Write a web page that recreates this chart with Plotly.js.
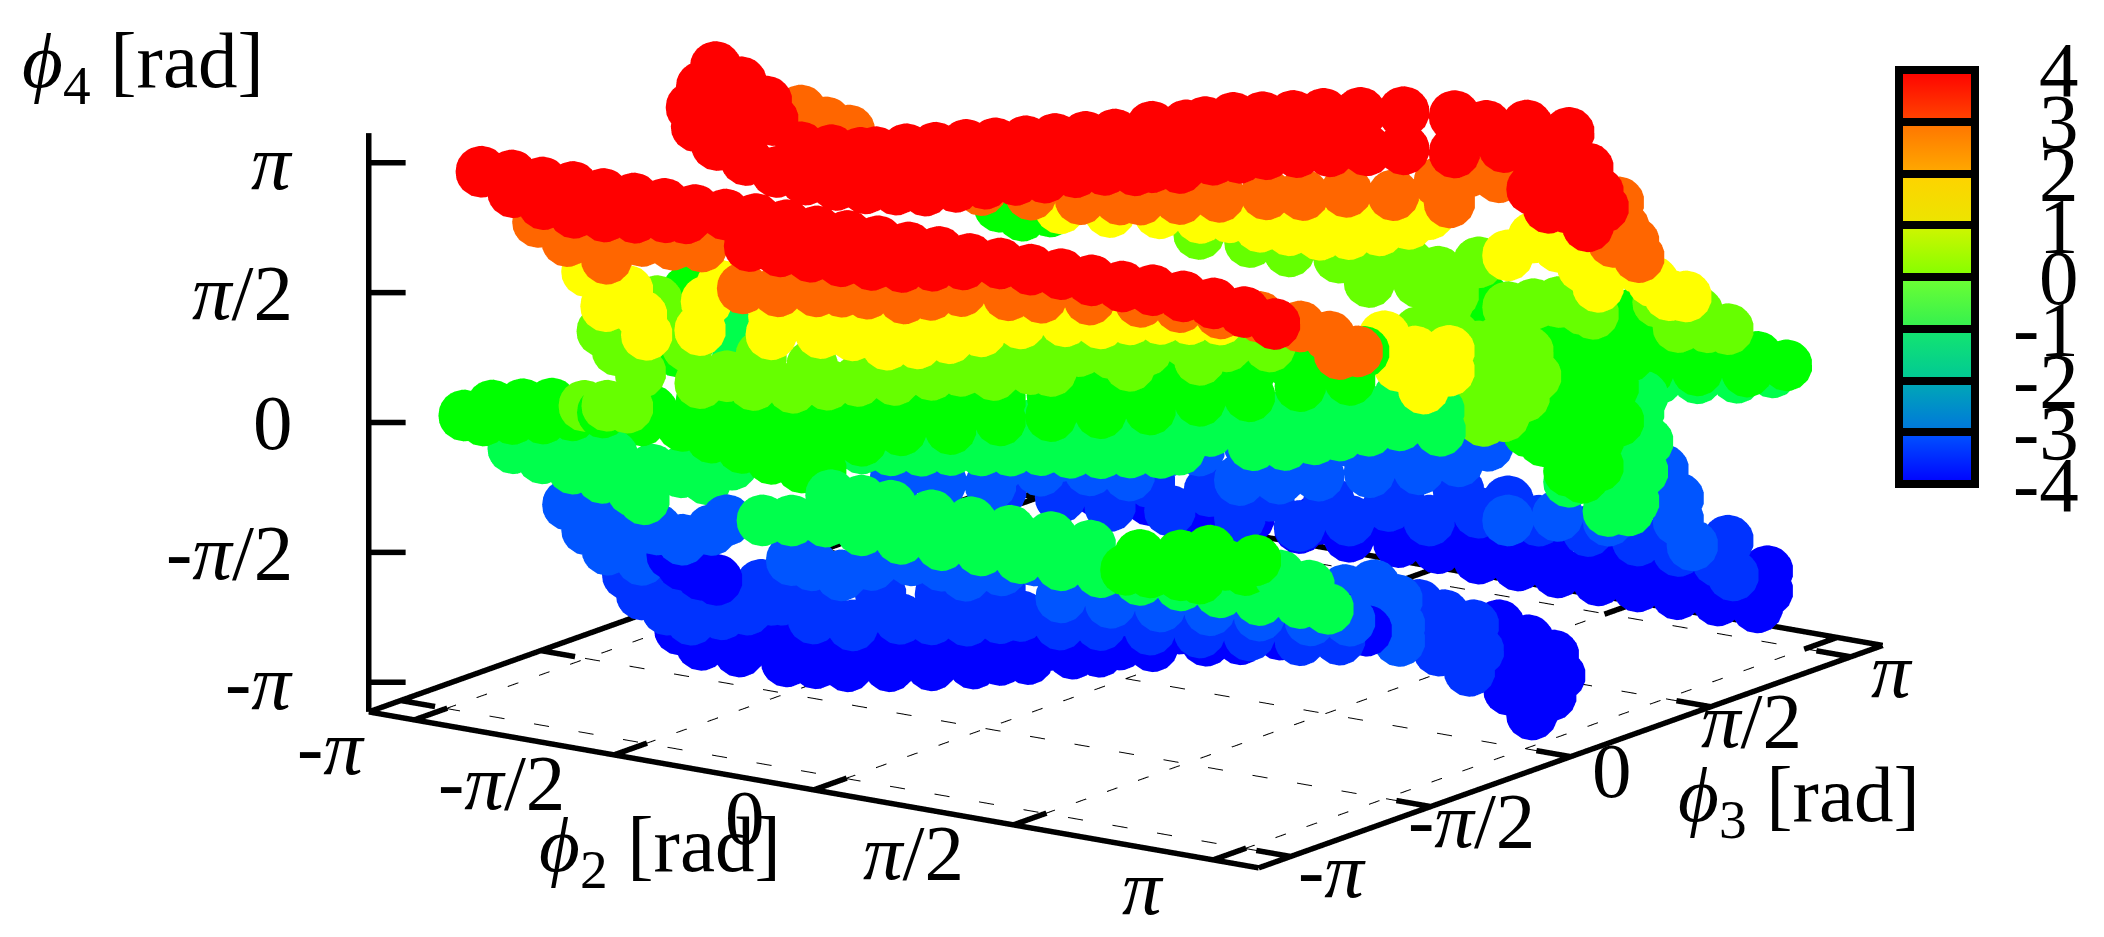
<!DOCTYPE html>
<html><head><meta charset="utf-8"><script src="https://cdn.plot.ly/plotly-3.0.1.min.js"></script>
<style>html,body{margin:0;background:#fff}#chart{width:2104px;height:937px}</style></head>
<body><div id="chart"></div><script>
// axis ticks and colour bar
var pi = Math.PI;
var lim = 3.5;
var tickVals = [-pi, -pi/2, 0, pi/2, pi];
var tickText = ['-<i>π</i>', '-<i>π</i>/2', '0', '<i>π</i>/2', '<i>π</i>'];
var cbarTicks = [-3, -2, -1, 0, 1, 2, 3];
var cbarLabels = [-4, -3, -2, -1, 0, 1, 2, 3, 4];

// points, one pair of arrays per strand, phi3 is in the table below
var redA2 = [-3.11,-2.87,-2.63,-2.39,-2.15,-1.91,-1.67,-1.43,-1.19,-.95,-.71,-.47,-.23,.01,.25,.49,.73,.97,1.21,1.45,1.69,1.93,2.17,2.41,2.65,2.89,3.13];
var redA4 = [2.88,2.9,2.88,2.89,2.87,2.88,2.88,2.87,2.88,2.89,2.88,2.87,2.88,2.88,2.87,2.88,2.86,2.87,2.86,2.87,2.86,2.85,2.87,2.86,2.84,2.8,2.72];
var redB2 = [-1,-.76,-.52,-.28,-.04,.2,.44,.68];
var redB4 = [2.55,2.55,2.55,2.56,2.58,2.62,2.7,2.78];
var redC2 = [-2.86,-2.62,-2.38,-2.14,-1.9,-1.66,-1.5];
var redC4 = [2.7,2.62,2.58,2.6,2.65,2.72,2.75];
var orangeL2 = [-2.84,-2.61,-2.3,-2.33,-2.02,-1.86,-1.78,-1.55];
var orangeL4 = [2.25,2.08,1.95,2.21,2.24,2.37,2.26,2.3];
var orangeM2 = [-1.23,-.95,-.65,-.45,-.25,.04,.25,.49,.86,1.12,1.5,1.9,2.21,2.53];
var orangeM4 = [1.88,1.92,2,2.05,2.08,2.1,2.2,2.31,2.36,2.4,2.48,2.56,2.58,2.59];
var orangeR2 = [2.59,2.91,3.14,3.36,3.22];
var orangeR4 = [2.43,2.4,2.34,2.22,2.15];
var yellowL2 = [-2.84,-2.69,-2.52,-2.41,-2.37,-1.95,-1.9,-1.78,-1.39,-1.37,-1.27,-1,-.75,-.48,-.24,.01,.26,.57,.92,1.2,1.43,1.67,1.9,2.14,-1.15,-.84,-.52,-.21,.1,.42];
var yellowL4 = [1.44,1.06,1.29,1.02,.8,.97,1.33,1.55,1.07,1.29,1.5,1.19,1.23,1.19,1.27,1.4,1.55,1.73,1.85,1.9,2.01,2.08,2.14,2.2,1.35,1.47,1.56,1.64,1.75,1.86];
var yellowR2 = [2.8,3.04,3.31,3.31,3.11,2.92];
var yellowR4 = [1.83,1.71,1.79,1.55,1.28,1.5];
var limeL2 = [-3,-2.88,-2.7,-2.57,-2.44,-2.33,-2.23,-2.02,-1.81,-1.5,-1.23,-.99,-.7,-.41,-.18,.08,.37,.75,1.01,1.28,1.59,1.91,2.12,-1.75,-1.35,-.88,-.5,.13,.6,1.23,1.78,.53,1.15,1.7,2.25];
var limeL4 = [.52,.32,.1,1,.79,.52,.1,.24,.19,.24,.35,.46,.55,.69,.8,.82,.97,1.29,1.33,1.44,1.63,1.66,1.88,.56,.55,.67,.8,1.02,1.25,1.54,1.75,.99,1.22,1.44,1.75];
var limeTip2 = [2.44,2.72,3.07,3.3,3.36,3.27,3.11,2.95,2.84,2.91,3.15,2.99,2.84,2.68,3.19];
var limeTip4 = [1.44,1.46,1.49,1.43,1.15,.88,.6,.5,.83,1.39,1.21,.87,1.19,.85,.86];
var limeBlob2 = [-2.37,-2.19,-2.03];
var limeBlob4 = [.21,.26,.28];
var greenM2 = [-3.14,-2.83,-2.75,-2.51,-2.28,-2.04,-1.81,-1.57,-1.42,-2.36,-2.04,-1.73,-1.42,-1.06,-.79,-.56,-.32,-.01,.4,.7,1.01,1.33,1.64,1.95,2.27,2.58,2.85,-2.47,-2.51,-2.55,-.79,-.4,-.01,.39,.78,1.17,1.56,1.95,2.35,2.74,-2.2,-1.81,-1.42,-1.1];
var greenM4 = [-.55,-.59,-.45,-.57,-.65,-.71,-.78,-.82,-.81,-.22,-.26,-.24,-.15,-.06,.05,.14,.26,.41,.58,.66,.8,.98,1.11,1.27,1.48,1.68,1.77,1.07,.7,.32,-.16,-.04,.17,.33,.47,.62,.83,.99,1.22,1.4,-.42,-.5,-.45,-.37];
var greenL2 = [-3.35,-3.13,-2.89,-2.66,-3.2,-2.97,-2.73,-2.5,-2.26];
var greenL4 = [-.19,-.01,.07,.14,-.21,-.13,-.06,.04,.14];
var greenTip2 = [3.39,3.27,3.15,3.07,3.03,3.15,2.92,2.84,3.31,3.07,2.84,2.95,2.72,2.6,3.31,3.15,2.92];
var greenTip4 = [1.01,.61,.22,-.16,-.55,-.38,.1,.56,.93,.74,.32,-.13,-.19,-.11,.21,-.08,-.5];
var springM2 = [-3.1,-2.87,-2.67,-2.47,-1.45,-1.22,-.98,-.75,-.51,-.28,-.04,.19,.43,.66,.9,1.05,1.63,1.88,2.11,2.31,2.54,2.78,3.1,-.36,.11,.58,1.05,1.52,1.99,2.31,2.78,3.09,-1.14,-.75,-2.5,-2.43,-2.4,-1.3,-.12,.35,.82,1.29,1.76,2.15,2.54,2.93];
var springM4 = [-1.45,-1.42,-1.45,-1.22,-.75,-.71,-.65,-.58,-.52,-.46,-.39,-.36,-.3,-.23,-.17,-.09,.12,.19,.32,.42,.54,.67,.69,-.18,-.05,.13,.32,.51,.75,.9,1.02,.93,-.45,-.32,.4,.05,-.24,-.55,-.11,.01,.2,.2,.39,.61,.78,.82];
var springL2 = [-3.28,-3.05,-2.81,-2.58,-2.34,-2.25,-2.81,-2.5,-3.21];
var springL4 = [-.74,-.8,-.86,-.91,-1,-1.08,-.59,-.62,-.62];
var springTip2 = [3.26,3.33,3.29,3.22,3.18,2.94,3.02,2.71,3.1,3.14,3.29,3.02];
var springTip4 = [.19,-.15,-.52,-.9,-1.02,-.61,-.23,-.8,-.69,-.32,.39,-1.07];
var blueL2 = [-3.06,-2.91,-2.75,-2.63,-2.48,-2.55,-2.36,-2.16,-1.93,-1.81,-2.79];
var blueL4 = [-1.48,-1.74,-1.94,-1.85,-1.99,-1.53,-1.59,-1.66,-1.48,-1.33,-1.47];
var midL2 = [-2.8,-2.69,-2.49,-2.3,-2.06,-1.86,-1.67,-1.51,-1.75,-1.98,-2.61];
var midL4 = [-2.37,-2.58,-2.71,-2.78,-2.65,-2.54,-2.37,-2.15,-2.21,-2.45,-2.32];
var deepBlob2 = [-2.23,-2.08,-1.96,-2.31];
var deepBlob4 = [-2.02,-2.1,-2.13,-1.92];
var blueC2 = [-1.16,-1,-.77,-.53,-.22,.02,.21,.49,.75,.96,1.35,1.74,2.13,2.52,2.92,3.23];
var blueC4 = [-1.56,-1.58,-1.64,-1.45,-1.31,-1.31,-1.38,-1.24,-1.05,-1.44,-1.4,-1.34,-1.28,-1.24,-1.19,-1.11];
var midC2 = [-1.27,-.96,-.59,-.34,-.06,.2,.36,.67,.99,1.38,1.77,2.16,2.56,2.87,-1.21,-.74,-.27,.2,-1.52,1.18,1.97,2.71];
var midC4 = [-2.45,-2.45,-2.27,-2.21,-2.15,-2.05,-1.98,-2,-1.92,-1.87,-1.8,-1.73,-1.68,-1.59,-2.15,-2.02,-1.89,-1.71,-2.29,-1.69,-1.53,-1.34];
var deepC2 = [-2.46,-2.29,-1.99,-1.62,-1.39,-1.14,-.81,-.48,-.15,.06,.28,.63,.84,1.26,1.68,1.95,2.26,2.63,2.94,-1.74,-1.27,-.72,-.25,.22,.85,1.47,2.1,2.73,1,2.41,-.99,.46,1.87];
var deepC4 = [-2.98,-3.12,-3.12,-3.14,-3.1,-3.07,-2.98,-2.88,-2.77,-2.67,-2.6,-2.44,-2.36,-2.18,-2,-1.91,-1.77,-1.64,-1.54,-2.91,-2.8,-2.65,-2.51,-2.33,-2.15,-1.91,-1.66,-1.44,-2.23,-1.62,-2.89,-2.38,-1.84];
var blueTip2 = [2.42,2.65,2.83,2.85,2.85,2.61];
var blueTip4 = [-1.38,-1.26,-1.39,-1.69,-1.88,-1.69];
var midTip2 = [2.65,2.85,3.08,3.12,3.05,2.81];
var midTip4 = [-1.69,-1.76,-1.82,-2.12,-2.38,-2.2];
var deepTip2 = [2.86,3.09,3.29,3.34,3.27,3.12,2.94,2.82,3.09];
var deepTip4 = [-2.11,-2.23,-2.36,-2.59,-2.85,-3.12,-2.87,-2.61,-2.71];
var lowSpring2 = [-1.18,-.95,-.68,-.4,-.09,.23,.54,.85,1.17,1.48,1.79,2.11,2.42,2.73,3.05,3.27,-.64,-.4,-.17,.15,.46,.77,1.09,1.4,2.89,2.66,3.12];
var lowSpring4 = [-.97,-.91,-.85,-.88,-.9,-.89,-.87,-.88,-.88,-.88,-.89,-.87,-.87,-.88,-.83,-.84,-.52,-.52,-.52,-.55,-.55,-.57,-.56,-.58,-.54,-.54,-.6];
var lowGreen2 = [1.75,1.94,2.18,2.33,2.53,2.69,2.77,2.18,1.86,2.41];
var lowGreen4 = [-.74,-.72,-.69,-.69,-.47,-.49,-.35,-.45,-.53,-.33];
// back sheet
var bredL2 = [-3.02,-3.13,-3.21,-3.17,-3.01,-2.78,-2.54,-2.31,-2.07,-1.84,-1.6,-1.37,-1.13,-.9,-.66,-.43,-.19,.04,.28,-2.82,-2.62,-2.57,-2.82,-2.97,-2.35,-2.11,-1.88,-1.76,-1.52,-1.29,-1.05,-.82,-.58,-.35,-.11,.12];
var bredL4 = [3.21,2.94,2.67,2.45,2.27,2.15,2.07,2.04,2.04,2.06,2.11,2.16,2.27,2.37,2.48,2.57,2.7,2.79,2.85,3.08,2.9,2.69,2.66,2.85,2.42,2.45,2.48,2.52,2.62,2.7,2.8,2.88,2.97,3.06,3.15,3.24];
var bredR2 = [-.57,-.3,-.15,.07,.3,.54,.78,1.07,1.41,1.81,2.06,2.38,-.09,.12,.33,.57,.83,1.12,1.41,1.81,-.57,-.35,2.59,2.72,2.86,2.94,2.98,2.42,2.55,2.71,2.86,2.47,2.2,2.71];
var bredR4 = [2.61,2.7,2.78,2.89,2.96,3.04,3.13,3.22,3.32,3.38,3.33,3.42,2.34,2.42,2.52,2.61,2.69,2.78,2.87,2.94,2.12,2.17,3.08,2.76,3.03,2.76,2.59,2.66,2.47,2.51,2.33,3.18,3.11,3.42];
var borangeL2 = [-2.49,-2.29,-2.11,-1.86,-1.47,-1.07,-.68,-.29,.02];
var borangeL4 = [2.75,2.66,2.61,2.15,2.16,2.17,2.22,2.27,2.35];
var borangeR2 = [-.8,-.49,-.18,.19,.48,.82,1.19,1.55,1.78,1.63,2.02,2.25,2.96,3,3.08,3.12,2.92];
var borangeR4 = [1.59,1.68,1.79,1.92,1.99,2.12,2.18,2.43,2.62,2.21,2.62,2.74,2.57,2.28,2.12,1.95,2.08];
var byellow2 = [-.24,0,.23,.47,.7,.94,1.17,1.33,.31,.7,1.09,-1.57,-1.18,-.79,-.47,1.95,2.15,2.35,2.54,2.66,2.97,3.09,3.22,3.35];
var byellow4 = [1.45,1.4,1.42,1.43,1.5,1.61,1.75,1.91,1.72,1.83,1.93,1.2,1.26,1.35,1.38,1.58,1.85,1.79,1.6,1.39,1.71,1.57,1.44,1.46];
var blime2 = [.2,.51,.75,.98,1.1,.83,1.3,1.53,1.73,1.93,2.12,2.2,2.87,3.1,3.26,3.02,2.71,-.9,-.5,-.19,.44,1.06];
var blime4 = [.85,.9,.92,.89,.65,.72,1.09,.61,.7,.78,.74,.71,.73,.79,.81,.95,.99,.84,.85,.82,.62,.54];
var bgreen2 = [3.37,3.14,2.91,2.67,2.44,2.2,1.96,1.73,1.49,1.26,1.02,.79,.48,.16,-.15,-.46,-.78,-2.82,-2.64,-2.42,2.28,2.67,3.06,1.1,1.42,1.73,2.04,1.57,2.2];
var bgreen4 = [.21,.25,.25,.24,.24,.06,.05,.05,.11,.17,.34,.46,.56,.65,.75,.81,.8,.46,.4,.51,-.16,-.04,.05,-.06,-.27,-.31,-.23,.37,.54];
var bspring2 = [2.22,2.53,2.84,3.12];
var bspring4 = [-.34,-.25,-.16,-.02];
var bblue2 = [-3.29,-2.93,-2.54,-2.15,-1.76,-1.45,-.9,-.58,-.27,.04,.44,.83,1.14,1.37,-.5,-.11,.28,.67,1.06,1.53,1.92,2.32,2.63,2.87,2.75,2.87,2.98,-2.46,-1.99,-1.52,-1.13];
var bblue4 = [-2.78,-2.71,-2.64,-2.36,-2.25,-2.23,-1.78,-2.05,-1.95,-1.83,-1.68,-1.54,-1.36,-1.11,-1.62,-1.51,-1.35,-1.24,-1.08,-1.97,-1.81,-1.76,-1.14,-1.34,-1.03,-1.61,-1.88,-2.38,-2.14,-2.01,-1.84];
var bmid2 = [-2.67,-2.2,-1.81,-1.34,-.79,-.32,.07,-.09,.38,.7,1.09,1.32,1.56,1.95,2.34,2.66,2.97,3.09,3.05,-1.97,-1.5,-1.03,-.56,.46,.93];
var bmid4 = [-2.86,-2.81,-2.81,-2.74,-2.68,-2.65,-2.48,-2.29,-2.22,-2.31,-2.11,-1.91,-2.08,-2.1,-2.11,-2.15,-2.19,-2.33,-1.92,-2.52,-2.44,-2.42,-2.35,-2.02,-1.89];
var bdeep2 = [-2.34,-2.03,-1.64,-1.25,-.86,-.46,-.07,.32,.63,.95,1.26,1.57,1.89,2.2,2.51,2.83,3.14,3.22,3.22,1.1,1.49,1.89,2.28,2.67,2.99,-1.72,-1.01,-.31,.32,.71];
var bdeep4 = [-2.77,-2.79,-2.77,-2.78,-2.78,-2.79,-2.79,-2.75,-2.74,-2.78,-2.78,-2.78,-2.79,-2.78,-2.79,-2.78,-2.78,-2.56,-2.32,-2.53,-2.51,-2.51,-2.48,-2.49,-2.47,-2.67,-2.66,-2.64,-2.55,-2.51];

var levelColors = {red:'#ff0000', orange:'#ff6600', yellow:'#ffff00', lime:'#66ff00', green:'#00ff00', spring:'#00ff4c', blue:'#0055ff', mid:'#0033ff', deep:'#0000ff'};
var strands = [
  {p2:redA2, p3:-2.8, p4:redA4, c:'red'}, {p2:redB2, p3:-2.8, p4:redB4, c:'red'}, {p2:redC2, p3:-2.8, p4:redC4, c:'red'},
  {p2:orangeL2, p3:-2.55, p4:orangeL4, c:'orange'}, {p2:orangeM2, p3:-2.55, p4:orangeM4, c:'orange'}, {p2:orangeR2, p3:-2.2, p4:orangeR4, c:'orange'},
  {p2:yellowL2, p3:-2, p4:yellowL4, c:'yellow'}, {p2:yellowR2, p3:-1.1, p4:yellowR4, c:'yellow'},
  {p2:limeL2, p3:-1.6, p4:limeL4, c:'lime'}, {p2:limeTip2, p3:-.2, p4:limeTip4, c:'lime'}, {p2:limeBlob2, p3:-2.7, p4:limeBlob4, c:'lime'},
  {p2:greenM2, p3:-1.4, p4:greenM4, c:'green'}, {p2:greenL2, p3:-2.65, p4:greenL4, c:'green'}, {p2:greenTip2, p3:.8, p4:greenTip4, c:'green'},
  {p2:springM2, p3:-.9, p4:springM4, c:'spring'}, {p2:springL2, p3:-2.2, p4:springL4, c:'spring'}, {p2:springTip2, p3:1.1, p4:springTip4, c:'spring'},
  {p2:blueL2, p3:-1.9, p4:blueL4, c:'blue'}, {p2:midL2, p3:-1.6, p4:midL4, c:'mid'}, {p2:deepBlob2, p3:-1.8, p4:deepBlob4, c:'deep'},
  {p2:blueC2, p3:-2.1, p4:blueC4, c:'blue'}, {p2:midC2, p3:-1.7, p4:midC4, c:'mid'}, {p2:deepC2, p3:-1.5, p4:deepC4, c:'deep'},
  {p2:blueTip2, p3:-1, p4:blueTip4, c:'blue'}, {p2:midTip2, p3:-.5, p4:midTip4, c:'mid'}, {p2:deepTip2, p3:.1, p4:deepTip4, c:'deep'},
  {p2:lowSpring2, p3:-2.4, p4:lowSpring4, c:'spring'}, {p2:lowGreen2, p3:-2.5, p4:lowGreen4, c:'green'},
  {p2:bredL2, p3:-.3, p4:bredL4, c:'red'}, {p2:bredR2, p3:1.1, p4:bredR4, c:'red'},
  {p2:borangeL2, p3:-.1, p4:borangeL4, c:'orange'}, {p2:borangeR2, p3:1.3, p4:borangeR4, c:'orange'},
  {p2:byellow2, p3:1.5, p4:byellow4, c:'yellow'}, {p2:blime2, p3:2.1, p4:blime4, c:'lime'},
  {p2:bgreen2, p3:2.6, p4:bgreen4, c:'green'}, {p2:bspring2, p3:2.8, p4:bspring4, c:'spring'},
  {p2:bblue2, p3:2.1, p4:bblue4, c:'blue'}, {p2:bmid2, p3:2.4, p4:bmid4, c:'mid'}, {p2:bdeep2, p3:2.6, p4:bdeep4, c:'deep'}
];
var traces = strands.map(function(s){
  return {type:'scatter3d', mode:'markers', x:s.p2, y:s.p2.map(function(){return s.p3;}), z:s.p4,
    marker:{size:30, color:levelColors[s.c], line:{width:0}, opacity:1}, hoverinfo:'skip', showlegend:false};
});

// box, ticks and the dashed floor grid
var bx=[],by=[],bz=[], gx=[],gy=[],gz=[];
function seg(ax,ay,az,p,q,r,s,t,u){ ax.push(p,s,null); ay.push(q,t,null); az.push(r,u,null); }
seg(bx,by,bz,-lim,-lim,-lim,lim,-lim,-lim); seg(bx,by,bz,lim,-lim,-lim,lim,lim,-lim);
seg(bx,by,bz,lim,lim,-lim,-lim,lim,-lim); seg(bx,by,bz,-lim,lim,-lim,-lim,-lim,-lim);
seg(bx,by,bz,-lim,-lim,-lim,-lim,-lim,lim);
tickVals.forEach(function(v){
  seg(bx,by,bz,v,-lim,-lim,v,-lim+.37,-lim); seg(bx,by,bz,v,lim,-lim,v,lim-.37,-lim);
  seg(bx,by,bz,lim,v,-lim,lim-.27,v,-lim); seg(bx,by,bz,-lim,v,-lim,-lim+.27,v,-lim);
  seg(bx,by,bz,-lim,-lim,v,-lim+.195,-lim+.136,v);
  seg(gx,gy,gz,v,-lim,-lim,v,lim,-lim); seg(gx,gy,gz,-lim,v,-lim,lim,v,-lim);
});
traces.push({type:'scatter3d',mode:'lines',x:gx,y:gy,z:gz,line:{color:'#000',width:2,dash:'dot'},hoverinfo:'skip',showlegend:false});
traces.push({type:'scatter3d',mode:'lines',x:bx,y:by,z:bz,line:{color:'#000',width:11},hoverinfo:'skip',showlegend:false});

// colour bar, carried by an empty trace
var cbarScale = [[0,'#0000ff'],[.125,'#0055ff'],[.125,'#0075dd'],[.25,'#00aab4'],[.25,'#00c896'],[.375,'#14e66e'],[.375,'#32f050'],[.5,'#6eff32'],[.5,'#82ff00'],[.625,'#d2f500'],[.625,'#ebe600'],[.75,'#ffd200'],[.75,'#ffaa00'],[.875,'#ff7300'],[.875,'#ff4600'],[1,'#ff0000']];
traces.push({type:'scatter3d',mode:'markers',x:[null,null],y:[null,null],z:[null,null],hoverinfo:'skip',showlegend:false,
  marker:{size:1,color:[-4,4],cmin:-4,cmax:4,colorscale:cbarScale,showscale:true,
    colorbar:{x:1899/2104,xanchor:'left',xpad:0,ypad:0,thickness:76,len:414,lenmode:'pixels',y:1-277/937,yanchor:'middle',outlinewidth:8,outlinecolor:'#000',
      tickmode:'array',tickvals:cbarTicks,ticks:'inside',ticklen:76,tickwidth:8,tickcolor:'#000',showticklabels:false}}});

var serif = {family:'Liberation Serif', size:79, color:'#000'};
var sceneNotes = [];
tickVals.forEach(function(v,i){
  sceneNotes.push({x:-lim,y:-lim,z:v,text:tickText[i],showarrow:false,xanchor:'right',yanchor:'middle',xshift:-74,font:serif});
  sceneNotes.push({x:v,y:-lim,z:-lim,text:tickText[i],showarrow:false,xanchor:'right',yanchor:'middle',xshift:-47,yshift:-28,font:serif});
  sceneNotes.push({x:lim,y:v,z:-lim,text:tickText[i],showarrow:false,xanchor:'center',yanchor:'middle',xshift:41,yshift:-14,font:serif});
});
var paperNotes = cbarLabels.map(function(v){
  return {xref:'paper',yref:'paper',x:2081/2104,y:1-(277-(v/4)*207)/937,text:String(v),showarrow:false,xanchor:'right',yanchor:'middle',font:serif};
});
paperNotes.push({xref:'paper',yref:'paper',x:20/2104,y:1-66/937,text:'<i>ϕ</i><sub>4</sub> [rad]',showarrow:false,xanchor:'left',yanchor:'middle',font:serif});
paperNotes.push({xref:'paper',yref:'paper',x:537/2104,y:1-850/937,text:'<i>ϕ</i><sub>2</sub> [rad]',showarrow:false,xanchor:'left',yanchor:'middle',font:serif});
paperNotes.push({xref:'paper',yref:'paper',x:1676/2104,y:1-800/937,text:'<i>ϕ</i><sub>3</sub> [rad]',showarrow:false,xanchor:'left',yanchor:'middle',font:serif});

function hiddenAxis(){ return {range:[-lim,lim],showgrid:false,zeroline:false,showline:false,showticklabels:false,showspikes:false,showbackground:false,ticks:'',title:{text:''}}; }
var dir = {x:.556,y:-.793,z:.25}, dist = 6, ctr = {x:-.1046,y:-.125,z:-.1638};
var layout = {width:2104,height:937,margin:{l:0,r:0,t:0,b:0},showlegend:false,paper_bgcolor:'#fff',annotations:paperNotes,
  scene:{domain:{x:[0,1],y:[0,1]},aspectmode:'manual',aspectratio:{x:2.32,y:2.32,z:1.276},xaxis:hiddenAxis(),yaxis:hiddenAxis(),zaxis:hiddenAxis(),annotations:sceneNotes,
    camera:{projection:{type:'orthographic'},up:{x:0,y:0,z:1},center:ctr,eye:{x:ctr.x+dir.x*dist,y:ctr.y+dir.y*dist,z:ctr.z+dir.z*dist}}}};
Plotly.newPlot('chart',traces,layout,{displayModeBar:false});
</script></body></html>
